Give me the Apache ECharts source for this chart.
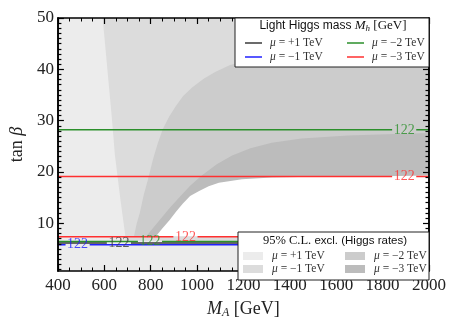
<!DOCTYPE html>
<html>
<head>
<meta charset="utf-8">
<script src="https://cdn.jsdelivr.net/npm/echarts@6/dist/echarts.min.js"></script>
<style>
html, body { margin: 0; padding: 0; background: #fff; }
#chart { width: 449px; height: 324px; }
</style>
</head>
<body>
<div id="chart"></div>
<script>
// 坐标范围 / 刻度
var xMin = 400, xMax = 2000;
var yMin = 0.7, yMax = 50;
var yMajorTicks = [10, 20, 30, 40, 50];
var yMinorTicks = [1, 2, 3, 4, 5, 6, 7, 8, 9, 11, 12, 13, 14, 15, 16, 17, 18, 19, 21, 22, 23, 24, 25,
    26, 27, 28, 29, 31, 32, 33, 34, 35, 36, 37, 38, 39, 41, 42, 43, 44, 45, 46, 47, 48, 49];

// 排除区域边界 (M_A, tanβ)
var edgeMuM1 = [[593, 50], [632, 30.8], [646, 23.2], [670, 14.5], [689, 8.1], [692, 6.6], [2000, 6.6], [2000, 50]];
var edgeMuM2 = [[728, 7.4], [740, 10], [753, 12], [770, 15.5], [788, 18.5], [810, 22.5], [830, 25.5], [852, 28.3],
    [880, 30.8], [908, 32.8], [940, 34.8], [980, 36.5], [1030, 38.2], [1078, 39.5], [1140, 40.8], [1194, 41.5],
    [1280, 42.2], [1400, 43], [1600, 44], [2000, 45], [2000, 7.4]];
var edgeMuM3 = [[781, 7.4], [805, 8.8], [838, 10.6], [880, 12.9], [923, 15.0], [970, 17.3], [1023, 19.4],
    [1085, 21.5], [1151, 23.2], [1230, 24.6], [1322, 25.7], [1450, 26.5], [1650, 27.1], [1850, 27.4],
    [2000, 27.6], [2000, 7.4]];
var edgeAllowed = [[822, 7.4], [850, 9], [881, 10.6], [910, 12.3], [938, 13.8], [970, 15.3], [1009, 16.3],
    [1050, 17.2], [1094, 17.9], [1194, 18.6], [1322, 18.9], [1500, 19.05], [1800, 19.15], [2000, 19.3],
    [2000, 7.4]];

// M_h = 122 GeV 等值线: tanβ 值和标签位置
var contourTanB = [6.15, 5.8, 28.2, 6.45, 19.1, 7.35];
var contourLabelX = [663, 485, 1893, 797, 1893, 950];
var contourMu = ['+1', '-1', '-2', '-2', '-3', '-3'];
var contourText = '122';

var muLineColor = { '+1': '#3a3a3a', '-1': '#2020ff', '-2': '#2b8f2b', '-3': '#ff3030' };
var muFill = { '+1': '#ececec', '-1': '#dcdcdc', '-2': '#cccccc', '-3': '#bcbcbc' };

var serif = 'Liberation Serif';
var sans = 'Liberation Sans';

var myChart = echarts.init(document.getElementById('chart'), null, { renderer: 'canvas' });

function areaSeries(pts, color) {
    return {
        type: 'custom',
        silent: true,
        z: 1,
        data: [pts[0]],
        renderItem: function (params, api) {
            return {
                type: 'polygon',
                shape: { points: pts.map(function (p) { return api.coord(p); }) },
                style: { fill: color }
            };
        }
    };
}

var series = [
    areaSeries(edgeMuM1, muFill['-1']),
    areaSeries(edgeMuM2, muFill['-2']),
    areaSeries(edgeMuM3, muFill['-3']),
    areaSeries(edgeAllowed, '#ffffff')
];

// 等值线, 标签处断开
var gap = 52;
contourTanB.forEach(function (y, i) {
    var lx = contourLabelX[i];
    var c = muLineColor[contourMu[i]];
    [[[xMin, y], [lx - gap, y]], [[lx + gap, y], [xMax, y]]].forEach(function (seg) {
        series.push({
            type: 'line', data: seg, symbol: 'none', silent: true, z: 3,
            lineStyle: { color: c, width: 1.5 }
        });
    });
    series.push({
        type: 'scatter', data: [[lx, y]], symbolSize: 0, silent: true, z: 4,
        label: {
            show: true, position: 'inside', formatter: contourText,
            color: c, fontFamily: serif, fontSize: 14
        }
    });
});

function muRich(m) {
    return '{mu|μ}{t| = ' + m.replace('-', '−') + ' TeV}';
}
var entryRich = {
    mu: { fontFamily: serif, fontStyle: 'italic', fontSize: 11.5, fill: '#333' },
    t: { fontFamily: serif, fontSize: 11.5, fill: '#333' }
};
var LZ = 100;

// 图例 1: 线
var legend1 = [{
    type: 'rect', z: LZ, shape: { x: 0, y: 0, width: 194, height: 49 },
    style: { fill: '#fff', stroke: '#222', lineWidth: 1 }
}, {
    type: 'text', z: LZ + 1, x: 98, y: 8,
    style: {
        text: '{a|Light Higgs mass }{i|M}{s|h}{b| [GeV]}',
        align: 'center', verticalAlign: 'middle',
        rich: {
            a: { fontFamily: sans, fontSize: 12, fill: '#111', lineHeight: 15 },
            i: { fontFamily: serif, fontStyle: 'italic', fontSize: 13, fill: '#111', lineHeight: 15 },
            s: { fontFamily: serif, fontStyle: 'italic', fontSize: 9, fill: '#111', lineHeight: 9, verticalAlign: 'bottom' },
            b: { fontFamily: serif, fontSize: 13, fill: '#111', lineHeight: 15 }
        }
    }
}];
var legendOrder = ['+1', '-2', '-1', '-3'];
legendOrder.forEach(function (m, k) {
    var col = k % 2, row = Math.floor(k / 2);
    var x0 = col ? 112 : 10, ty = row ? 39 : 25;
    legend1.push({
        type: 'line', z: LZ + 1, shape: { x1: x0, y1: ty, x2: x0 + 17, y2: ty },
        style: { stroke: muLineColor[m], lineWidth: 1.5 }
    });
    legend1.push({
        type: 'text', z: LZ + 1, x: x0 + 25, y: ty,
        style: { text: muRich(m), verticalAlign: 'middle', rich: entryRich }
    });
});

// 图例 2: 排除区域
var legend2 = [{
    type: 'rect', z: LZ, shape: { x: 0, y: 0, width: 191, height: 48 },
    style: { fill: '#fff', stroke: '#222', lineWidth: 1 }
}, {
    type: 'text', z: LZ + 1, x: 97, y: 9,
    style: {
        text: '{b|95% C.L.}{a| excl. (Higgs rates)}',
        align: 'center', verticalAlign: 'middle',
        rich: {
            a: { fontFamily: sans, fontSize: 11.5, fill: '#111' },
            b: { fontFamily: serif, fontSize: 12.5, fill: '#111' }
        }
    }
}];
legendOrder.forEach(function (m, k) {
    var col = k % 2, row = Math.floor(k / 2);
    var x0 = col ? 107 : 5, ty = row ? 37 : 24;
    legend2.push({
        type: 'rect', z: LZ + 1, shape: { x: x0, y: ty - 4, width: 20, height: 8 },
        style: { fill: muFill[m] }
    });
    legend2.push({
        type: 'text', z: LZ + 1, x: x0 + 29, y: ty,
        style: { text: muRich(m), verticalAlign: 'middle', rich: entryRich }
    });
});

var frameLine = { show: true, onZero: false, lineStyle: { color: '#000', width: 1.5 } };
var tickStyle = { color: '#000', width: 1.2 };

function xAxisDef(pos) {
    return {
        type: 'value', position: pos, min: xMin, max: xMax, interval: 200, z: 5,
        axisLine: frameLine,
        axisTick: { inside: true, length: 6, lineStyle: tickStyle },
        minorTick: { show: true, splitNumber: 4, length: 3.5, lineStyle: { color: '#000', width: 1 } },
        splitLine: { show: false },
        axisLabel: {
            show: pos === 'bottom', margin: 6, color: '#222', fontFamily: serif, fontSize: 17,
            showMinLabel: true, showMaxLabel: true,
            formatter: function (v) { return String(v); }
        }
    };
}
function yAxisDef(pos, ticks, len, labels) {
    return {
        type: 'value', position: pos, min: yMin, max: yMax, z: 5,
        axisLine: frameLine,
        axisTick: { inside: true, length: len, customValues: ticks, lineStyle: tickStyle },
        splitLine: { show: false },
        axisLabel: labels ? {
            customValues: yMajorTicks, margin: 4, color: '#222', fontFamily: serif, fontSize: 17,
            formatter: function (v) { return String(v); }
        } : { show: false }
    };
}

var xBottom = xAxisDef('bottom');
xBottom.name = '{i|M}{s|A}{n| [GeV]}';
xBottom.nameLocation = 'middle';
xBottom.nameGap = 28;
xBottom.nameTextStyle = {
    rich: {
        i: { fontFamily: serif, fontStyle: 'italic', fontSize: 18, color: '#222', lineHeight: 20 },
        s: { fontFamily: serif, fontStyle: 'italic', fontSize: 12, color: '#222', lineHeight: 12, verticalAlign: 'bottom' },
        n: { fontFamily: serif, fontSize: 18, color: '#222', lineHeight: 20 }
    }
};
var yLeft = yAxisDef('left', yMajorTicks, 6, true);
yLeft.name = '{r|tan }{i|β}';
yLeft.nameLocation = 'middle';
yLeft.nameGap = 29;
yLeft.nameTextStyle = {
    rich: {
        r: { fontFamily: serif, fontSize: 18, color: '#222' },
        i: { fontFamily: serif, fontStyle: 'italic', fontSize: 18, color: '#222' }
    }
};

var option = {
    animation: false,
    grid: { left: 54, right: 20, top: 18, bottom: 45, show: true, backgroundColor: muFill['+1'], borderWidth: 0 },
    xAxis: [xBottom, xAxisDef('top')],
    yAxis: [
        yLeft,
        yAxisDef('left', yMinorTicks, 3.5, false),
        yAxisDef('right', yMajorTicks, 6, false),
        yAxisDef('right', yMinorTicks, 3.5, false)
    ],
    graphic: [
        { type: 'group', x: 235, y: 18, z: LZ, children: legend1 },
        { type: 'group', x: 238, y: 232, z: LZ, children: legend2 }
    ],
    series: series
};
myChart.setOption(option);

window.onresize = function () {
    myChart.resize();
};
</script>
</body>
</html>
